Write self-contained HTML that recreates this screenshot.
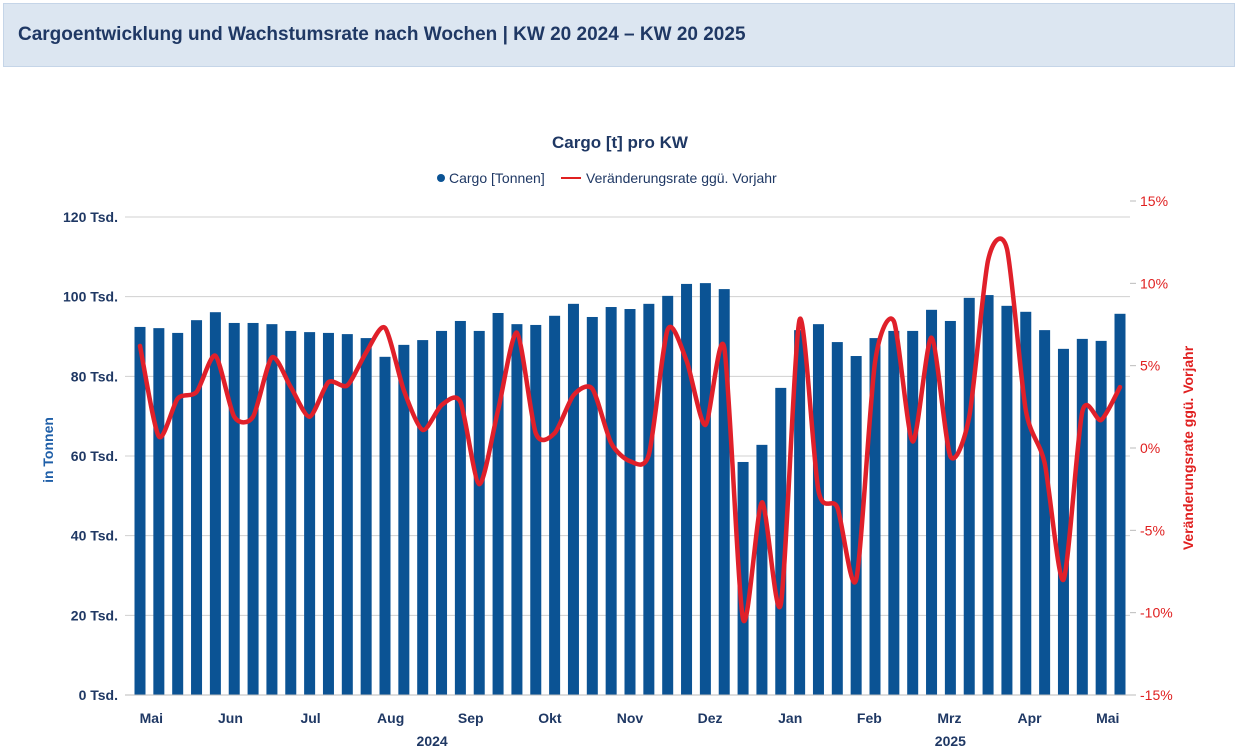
<!DOCTYPE html>
<html><head><meta charset="utf-8"><style>
body{margin:0;width:1240px;height:752px;background:#fff;font-family:"Liberation Sans",sans-serif;overflow:hidden}
#hdr{position:absolute;left:3px;top:3px;width:1232px;height:64px;background:#dce6f1;border:1px solid #c5d5e8;box-sizing:border-box}
#hdr span{position:absolute;left:14px;top:20px;font-size:19px;font-weight:bold;color:#1f3864}
</style></head><body>
<div id="hdr"><span>Cargoentwicklung und Wachstumsrate nach Wochen | KW 20 2024 – KW 20 2025</span></div>
<svg id="c" width="1240" height="752" style="position:absolute;left:0;top:0"></svg>
<script>
const cargo=[92.4,92.1,90.9,94.1,96.1,93.4,93.4,93.1,91.4,91.1,90.9,90.6,89.6,84.9,87.9,89.1,91.4,93.9,91.4,95.9,93.1,92.9,95.2,98.2,94.9,97.4,96.9,98.2,100.2,103.2,103.4,101.9,58.5,62.8,77.1,91.6,93.1,88.6,85.1,89.6,91.4,91.4,96.7,93.9,99.7,100.4,97.7,96.2,91.6,86.9,89.4,88.9,95.7];
const rate=[6.2,0.7,3.0,3.4,5.6,1.9,1.9,5.5,3.7,1.9,4.0,3.8,5.8,7.3,3.5,1.1,2.6,2.8,-2.2,2.3,7.0,0.9,0.9,3.2,3.6,0.3,-0.8,-0.4,7.2,5.3,1.4,6.1,-10.4,-3.3,-9.5,7.8,-2.6,-3.6,-8.0,5.2,7.7,0.4,6.7,-0.5,1.9,11.4,12.1,2.3,-0.9,-8.0,2.2,1.7,3.7];
const leftTicks=[0,20,40,60,80,100,120];
const rightTicks=[-15,-10,-5,0,5,10,15];
const months=["Mai","Jun","Jul","Aug","Sep","Okt","Nov","Dez","Jan","Feb","Mrz","Apr","Mai"];
const monthPos=[0.6,4.8,9.05,13.3,17.55,21.75,26,30.25,34.5,38.7,42.95,47.2,51.35];
const years=["2024","2025"];const yearPos=[15.5,43];
const NS="http://www.w3.org/2000/svg",svg=document.getElementById('c');
const X0=125,X1=1130,Y0=695,YT=217,RT=201;
const xB=i=>140+i*(1120-140)/(cargo.length-1);
const yL=v=>Y0-(v/120)*(Y0-YT);
const yR=v=>Y0-((v+15)/30)*(Y0-RT);
function el(t,a,txt){const e=document.createElementNS(NS,t);for(const k in a)e.setAttribute(k,a[k]);if(txt!=null)e.textContent=txt;svg.appendChild(e);return e;}
let e;
e=el('text',{x:620,y:148,'text-anchor':'middle','font-size':17,'font-weight':'bold',fill:'#1f3864'},'Cargo [t] pro KW');


e=el('circle',{cx:441,cy:178,r:4,fill:'#0b5394'});


e=el('text',{x:449,y:183,'font-size':14,fill:'#1f3864'},'Cargo [Tonnen]');


e=el('line',{x1:561,y1:178,x2:581,y2:178,stroke:'#e02020','stroke-width':2});


e=el('text',{x:586,y:183,'font-size':14,fill:'#1f3864'},'Veränderungsrate ggü. Vorjahr');


leftTicks.forEach(v=>{const y=yL(v);
 e=el('line',{x1:X0,y1:y,x2:X1,y2:y,stroke:'#d0d0d0','stroke-width':1});
 
 
 e=el('text',{x:118,y:y+5,'text-anchor':'end','font-size':14,'font-weight':'bold',fill:'#1f3864'},v+' Tsd.');
 
 });
rightTicks.forEach(v=>{const y=yR(v);
 e=el('line',{x1:X1,y1:y,x2:X1+6,y2:y,stroke:'#bbb'});
 
 
 e=el('text',{x:1140,y:y+5,'font-size':14,fill:'#e02020'},v+'%');
 
 });
e=el('text',{transform:'translate(53,450) rotate(-90)','text-anchor':'middle','font-size':14,'font-weight':'bold',fill:'#1f5fa8'},'in Tonnen');


e=el('text',{transform:'translate(1193,448) rotate(-90)','text-anchor':'middle','font-size':14,'font-weight':'bold',fill:'#e02020'},'Veränderungsrate ggü. Vorjahr');


cargo.forEach((v,i)=>{
 e=el('rect',{x:xB(i)-5.5,y:yL(v),width:11,height:Y0-yL(v),fill:'#0b5394'});
 
 });
e=el('line',{x1:X0,y1:Y0,x2:X1,y2:Y0,stroke:'#bbb'});


months.forEach((m,i)=>{
 e=el('text',{x:xB(monthPos[i]),y:723,'text-anchor':'middle','font-size':14,'font-weight':'bold',fill:'#1f3864'},m);
 
 });
years.forEach((y,i)=>{
 e=el('text',{x:xB(yearPos[i]),y:746,'text-anchor':'middle','font-size':14,'font-weight':'bold',fill:'#1f3864'},y);
 
 });
const pts=rate.map((v,i)=>[xB(i),yR(v)]);
const T=8;
let d='M'+pts[0][0]+','+pts[0][1];
for(let i=0;i<pts.length-1;i++){const p0=pts[Math.max(0,i-1)],p1=pts[i],p2=pts[i+1],p3=pts[Math.min(pts.length-1,i+2)];
 d+=' C'+(p1[0]+(p2[0]-p0[0])/T)+','+(p1[1]+(p2[1]-p0[1])/T)+' '+(p2[0]-(p3[0]-p1[0])/T)+','+(p2[1]-(p3[1]-p1[1])/T)+' '+p2[0]+','+p2[1];}
e=el('path',{d:d,fill:'none',stroke:'#e0202a','stroke-width':4.5,'stroke-linejoin':'round','stroke-linecap':'round'});


</script>
</body></html>
